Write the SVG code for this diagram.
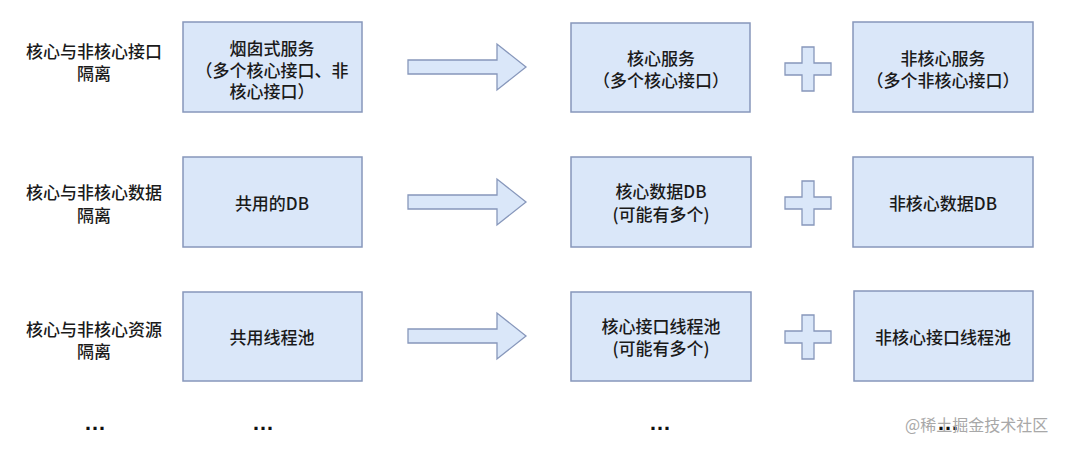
<svg xmlns="http://www.w3.org/2000/svg" width="1080" height="451" viewBox="0 0 1080 451">
<defs>
<style>
.box{fill:#dae7f9;stroke:#8797bb;stroke-width:1.5}
.shape{fill:#dae7f9;stroke:#8797bb;stroke-width:1.3;stroke-linejoin:miter}
text{font-family:"Noto Sans CJK SC","Noto Sans",sans-serif;font-size:17px;font-weight:500;fill:#1a1a1a;text-anchor:middle;dominant-baseline:central}
.dots{font-family:"Liberation Sans",sans-serif;font-size:22px;font-weight:bold;fill:#111}
.wm{font-size:16px;font-weight:400;fill:#a8a8a8;text-anchor:start}
</style>
<path id="arrow" d="M408,-7 H497 V-23 L526,0 L497,23 V7 H408 Z"/>
<path id="plus" d="M802,-22 H814 V-6 H831 V6 H814 V22 H802 V6 H785 V-6 H802 Z"/>
</defs>
<rect width="1080" height="451" fill="#ffffff"/>

<g id="label-row1"><text x="94" y="50">核心与非核心接口</text><text x="94" y="72">隔离</text></g>
<g id="label-row2"><text x="94" y="191">核心与非核心数据</text><text x="94" y="214">隔离</text></g>
<g id="label-row3"><text x="94" y="328">核心与非核心资源</text><text x="94" y="350">隔离</text></g>

<g id="node-r1-c1"><rect class="box" x="183" y="22" width="179" height="90"/><text x="272" y="47">烟囱式服务</text><text x="272" y="69">（多个核心接口、非</text><text x="272" y="90">核心接口）</text></g>
<g id="node-r1-c2"><rect class="box" x="571" y="23" width="179" height="89"/><text x="661" y="57">核心服务</text><text x="661" y="79">（多个核心接口）</text></g>
<g id="node-r1-c3"><rect class="box" x="853" y="22" width="180" height="90"/><text x="943" y="57">非核心服务</text><text x="943" y="79">（多个非核心接口）</text></g>

<g id="node-r2-c1"><rect class="box" x="183" y="157" width="179" height="90"/><text x="272" y="202">共用的DB</text></g>
<g id="node-r2-c2"><rect class="box" x="571" y="157" width="180" height="90"/><text x="661" y="190">核心数据DB</text><text x="661" y="213">(可能有多个)</text></g>
<g id="node-r2-c3"><rect class="box" x="853" y="157" width="180" height="90"/><text x="943" y="202">非核心数据DB</text></g>

<g id="node-r3-c1"><rect class="box" x="183" y="292" width="179" height="89"/><text x="272" y="336">共用线程池</text></g>
<g id="node-r3-c2"><rect class="box" x="571" y="292" width="180" height="89"/><text x="661" y="325">核心接口线程池</text><text x="661" y="347">(可能有多个)</text></g>
<g id="node-r3-c3"><rect class="box" x="854" y="291" width="179" height="90"/><text x="943" y="336">非核心接口线程池</text></g>

<g id="connectors">
<use href="#arrow" class="shape" transform="translate(0,67)"/>
<use href="#arrow" class="shape" transform="translate(0,202)"/>
<use href="#arrow" class="shape" transform="translate(0,336)"/>
<use href="#plus" class="shape" transform="translate(0,69)"/>
<use href="#plus" class="shape" transform="translate(0,203)"/>
<use href="#plus" class="shape" transform="translate(0,337)"/>
</g>

<g id="ellipses">
<text class="dots" x="95" y="422">…</text>
<text class="dots" x="263" y="422">…</text>
<text class="dots" x="660" y="422">…</text>
<text class="dots" x="948" y="422">…</text>
</g>
<text class="wm" x="905" y="424">@稀土掘金技术社区</text>
</svg>
